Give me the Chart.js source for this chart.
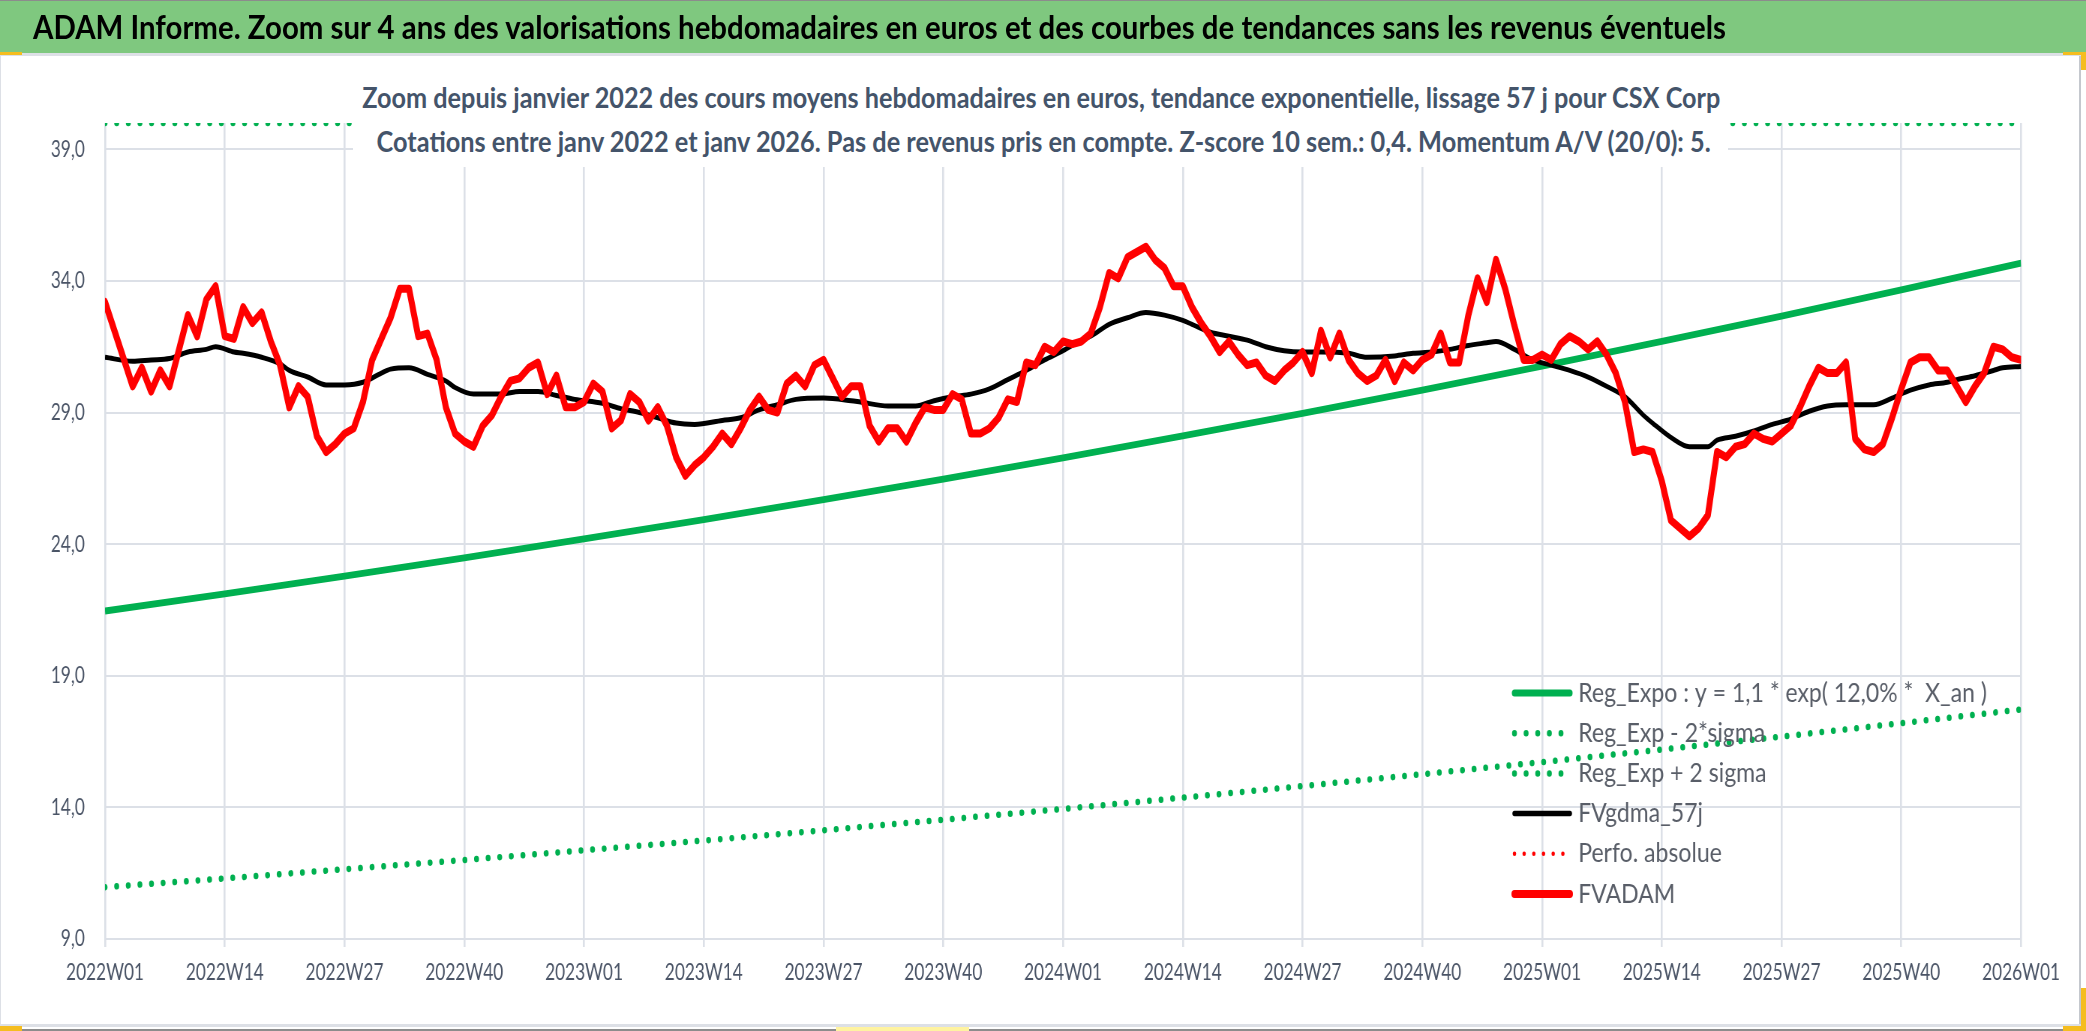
<!DOCTYPE html>
<html lang="fr">
<head>
<meta charset="UTF-8">
<title>ADAM Informe - CSX Corp</title>
<style>
  html, body { margin: 0; padding: 0; background: #fff; }
  #frame { position: relative; width: 2086px; height: 1031px; overflow: hidden; background: #fff; }
  .deco { position: absolute; }
  /* the reference is horizontally squeezed: draw at 2781px wide and scale to 2086 */
  #stage { position: absolute; left: 0; top: 0; width: 2781px; height: 1031px;
           transform: scaleX(0.75009); transform-origin: 0 0; }
  #chart { position: absolute; left: 0; top: 0; width: 2781px; height: 1031px; }
  .txt { position: absolute; white-space: nowrap; line-height: 1.2; transform-origin: 0 0;
         font-family: Lato, "Open Sans", sans-serif; }
  #title { left: 44px; top: 9px; font-size: 31.5px; font-weight: 700; color: #000; }
  #subBox { position: absolute; left: 471px; top: 64px; width: 1833px; height: 103px; background: #fff; }
  .sub { font-size: 29px; font-weight: 700; color: #44546A; }
  .handle { position: absolute; background: #F5BD1F; }
</style>
</head>
<body>
<div id="frame">
  <div class="deco" style="left:0;top:0;width:2086px;height:1px;background:#8c8c8c"></div>
  <div class="deco" style="left:0;top:1px;width:2086px;height:52px;background:#7FC87F"></div>
  <div class="deco" style="left:0;top:53px;width:2086px;height:3px;background:#DDE0E6"></div>
  <div class="deco" style="left:0;top:56px;width:1px;height:970px;background:#DDE0E6"></div>
  <div class="deco" style="left:2079px;top:56px;width:2px;height:970px;background:#C4C8CE"></div>
  <div class="deco" style="left:0;top:1024px;width:2081px;height:3px;background:#DDE0E6"></div>
  <div class="deco" style="left:0;top:1029px;width:2086px;height:2px;background:#8c8c8c"></div>

  <div id="stage">
    <canvas id="chart" width="2781" height="1031"></canvas>
    <div id="title" class="txt" data-w="2257">ADAM Informe. Zoom sur 4 ans des valorisations hebdomadaires en euros et des courbes de tendances sans les revenus éventuels</div>
    <div id="subBox"></div>
    <div class="txt sub" data-w="1811" data-cx="1388" style="top:80.4px">Zoom depuis janvier 2022 des cours moyens hebdomadaires en euros, tendance exponentielle, lissage 57 j pour CSX Corp</div>
    <div class="txt sub" data-w="1779" data-cx="1391" style="top:124.4px">Cotations entre janv 2022 et janv 2026. Pas de revenus pris en compte. Z-score 10 sem.: 0,4. Momentum A/V (20/0): 5.</div>
  </div>

  <div class="handle" style="left:0;top:52px;width:22px;height:3px"></div>
  <div class="handle" style="left:2063px;top:52px;width:23px;height:3px"></div>
  <div class="handle" style="left:2081px;top:52px;width:5px;height:18px"></div>
  <div class="handle" style="left:0;top:1026px;width:22px;height:5px"></div>
  <div class="handle" style="left:2063px;top:1026px;width:23px;height:5px"></div>
  <div class="handle" style="left:2081px;top:988px;width:5px;height:43px"></div>
  <div class="handle" style="left:836px;top:1027px;width:133px;height:4px;background:#FFF3A0"></div>
</div>

<script src="https://cdn.jsdelivr.net/npm/chart.js"></script>
<script>
    // x axis runs over weeks 0..208 (2022W01 .. 2026W01), one tick every 13 weeks
    const xTickLabels = ['2022W01', '2022W14', '2022W27', '2022W40', '2023W01', '2023W14', '2023W27', '2023W40',
        '2024W01', '2024W14', '2024W27', '2024W40', '2025W01', '2025W14', '2025W27', '2025W40', '2026W01'];
    const yTickValues = [9, 14, 19, 24, 29, 34, 39];

    const seriesNames = ['Reg_Expo : y = 1,1 * exp( 12,0% *  X_an )', 'Reg_Exp - 2*sigma', 'Reg_Exp + 2 sigma',
        'FVgdma_57j', 'Perfo. absolue', 'FVADAM'];

    // trend curves, read at each tick week
    const trendWeeks = [0, 13, 26, 39, 52, 65, 78, 91, 104, 117, 130, 143, 156, 169, 182, 195, 208];
    const regExpo = [21.46, 22.11, 22.79, 23.48, 24.20, 24.93, 25.69, 26.47, 27.28, 28.11, 28.97, 29.85, 30.76, 31.70, 32.66, 33.66, 34.68];
    const regLow = [10.97, 11.30, 11.65, 12.00, 12.37, 12.74, 13.13, 13.53, 13.94, 14.37, 14.81, 15.26, 15.72, 16.20, 16.69, 17.20, 17.72];
    // upper band sits on the top edge of the plot (40) all along
    const regHigh = [40, 40, 40, 40, 40, 40, 40, 40, 40, 40, 40, 40, 40, 40, 40, 40, 40];

    // smoothed line FVgdma_57j
    const gdmaWeeks = [0, 3, 5, 7, 9, 11, 12, 14, 15, 17, 19, 20, 22, 24, 26, 28, 30, 31, 33, 35, 37, 38, 40, 43, 45, 47, 49, 51,
        54, 56, 58, 60, 62, 64, 67, 69, 71, 73, 75, 78, 81, 82, 85, 88, 90, 92, 94, 96, 98, 100, 102, 104, 106, 107, 109,
        111, 113, 115, 117, 118, 120, 122, 124, 126, 128, 130, 132, 135, 137, 140, 142, 144, 146, 148, 150, 151, 153, 155,
        157, 159, 161, 163, 165, 167, 168, 170, 172, 174, 175, 177, 179, 181, 183, 185, 187, 189, 190, 192, 194, 196, 198,
        200, 201, 203, 205, 206, 208];
    const gdmaValues = [31.1, 30.95, 31.0, 31.05, 31.3, 31.4, 31.5, 31.3, 31.25, 31.1, 30.85, 30.6, 30.35, 30.05, 30.05, 30.15,
        30.5, 30.65, 30.7, 30.45, 30.2, 29.95, 29.7, 29.7, 29.8, 29.8, 29.65, 29.5,
        29.35, 29.15, 29.0, 28.8, 28.6, 28.55, 28.7, 28.8, 29.1, 29.3, 29.5, 29.55, 29.45, 29.4, 29.25, 29.25, 29.45, 29.6,
        29.7, 29.9, 30.25, 30.6, 31.0, 31.35, 31.75, 31.9, 32.35,
        32.6, 32.8, 32.7, 32.5, 32.35, 32.05, 31.9, 31.75, 31.5, 31.35, 31.3, 31.3, 31.25, 31.1, 31.15, 31.25, 31.3, 31.4,
        31.55, 31.65, 31.7, 31.4, 31.0,
        30.8, 30.6, 30.35, 30.0, 29.6, 28.9, 28.6, 28.05, 27.7, 27.7, 27.95, 28.1, 28.3, 28.55, 28.75, 29.05, 29.25, 29.3,
        29.3, 29.3, 29.55, 29.85, 30.05,
        30.15, 30.25, 30.4, 30.6, 30.7, 30.75];

    // weekly FVADAM, one row per 13 weeks (null = straight stretch, not read)
    const fvadam = [
        33.2, null, null, 30.0, 30.7, 29.8, 30.6, 30.0, null, 32.7, 31.9, 33.3, 33.8,
        31.9, 31.8, 33.0, 32.4, 32.8, 31.7, 30.8, 29.2, 30.0, 29.6, 28.1, 27.5, 27.8,
        28.2, 28.4, 29.4, 31.0, 31.8, 32.6, 33.7, 33.7, 31.9, 32.0, 31.0, 29.2, 28.2,
        27.9, 27.7, 28.5, 28.9, 29.6, 30.2, 30.3, 30.7, 30.9, 29.7, 30.4, 29.2, 29.2,
        29.4, 30.1, 29.8, 28.4, 28.7, 29.7, 29.4, 28.7, 29.2, 28.5, 27.3, 26.6, 27.0,
        27.3, 27.7, 28.2, 27.8, 28.4, 29.1, 29.6, 29.1, 29.0, 30.1, 30.4, 30.0, 30.8,
        31.0, 30.3, 29.6, 30.0, 30.0, 28.5, 27.9, 28.4, 28.4, 27.9, 28.6, 29.2, 29.1,
        29.1, 29.7, 29.5, 28.2, 28.2, 28.4, 28.8, 29.5, 29.4, 30.9, 30.8, 31.5, 31.3,
        31.7, 31.6, 31.7, 32.0, 33.0, 34.3, 34.1, 34.9, 35.1, 35.3, 34.8, 34.5, 33.8,
        33.8, 33.0, 32.4, 31.9, 31.3, 31.7, 31.2, 30.8, 30.9, 30.4, 30.2, 30.6, 30.9,
        31.3, 30.5, 32.1, 31.1, 32.0, 31.0, 30.5, 30.2, 30.4, 31.0, 30.2, 30.9, 30.6,
        31.0, 31.2, 32.0, 30.9, 30.9, 32.7, 34.1, 33.2, 34.8, 33.7, 32.3, 31.0, 31.0,
        31.2, 31.0, 31.6, 31.9, 31.7, 31.4, 31.7, 31.2, 30.5, 29.4, 27.5, 27.6, 27.5,
        26.4, 24.9, 24.6, 24.3, 24.6, 25.1, 27.5, 27.3, 27.7, 27.8, 28.2, 28.0, 27.9,
        28.2, 28.5, 29.2, 30.0, 30.7, 30.5, 30.5, 30.9, 28.0, 27.6, 27.5, 27.8, 28.8,
        29.9, 30.9, 31.1, 31.1, 30.6, 30.6, 30.0, 29.4, 30.0, 30.5, 31.5, 31.4, 31.1,
        31.0
    ];
    const perfoAbsolue = [];

    // fit the html titles to the measured widths of the reference
    document.querySelectorAll('.txt[data-w]').forEach(function(el) {
        const target = parseFloat(el.dataset.w);
        el.style.transform = 'scaleX(' + (target / el.offsetWidth) + ')';
        if (el.dataset.cx) el.style.left = (parseFloat(el.dataset.cx) - target / 2) + 'px';
    });

    function pairs(xs, ys) {
        return xs.map((x, i) => ({ x: x, y: ys[i] }));
    }

    const tickColor = '#4A5466';
    const gridColor = '#DCE0E7';
    const dotGreen = [0.1, 15.4];

    // legend drawn inside the plot, lower right, like the excel one
    const innerLegend = {
        id: 'innerLegend',
        afterDraw(chart) {
            const ctx = chart.ctx;
            ctx.save();
            ctx.font = '26.5px Lato, "Open Sans", sans-serif';
            const sx = 545 / ctx.measureText(seriesNames[0]).width;
            chart.data.datasets.forEach((ds, i) => {
                const y = 693 + i * 40.2;
                ctx.beginPath();
                ctx.lineCap = 'round';
                ctx.strokeStyle = ds.borderColor;
                ctx.lineWidth = ds.legendWidth;
                ctx.setLineDash(ds.borderDash || []);
                ctx.moveTo(2019, y);
                ctx.lineTo(2093, y);
                ctx.stroke();
                ctx.setLineDash([]);
                ctx.save();
                ctx.translate(2104, y);
                ctx.scale(sx, 1);
                ctx.fillStyle = '#595E68';
                ctx.textBaseline = 'middle';
                ctx.fillText(ds.label, 0, 0);
                ctx.restore();
            });
            ctx.restore();
        }
    };

    new Chart(document.getElementById('chart'), {
        type: 'line',
        data: {
            datasets: [
                { label: seriesNames[0], data: pairs(trendWeeks, regExpo), borderColor: '#00B050', borderWidth: 6.8,
                  legendWidth: 7, order: 5 },
                { label: seriesNames[1], data: pairs(trendWeeks, regLow), borderColor: '#00B050', borderWidth: 6.5,
                  borderDash: dotGreen, borderCapStyle: 'round', legendWidth: 6.5, order: 4 },
                { label: seriesNames[2], data: pairs(trendWeeks, regHigh), borderColor: '#00B050', borderWidth: 6.5,
                  borderDash: dotGreen, borderCapStyle: 'round', legendWidth: 6.5, order: 3 },
                { label: seriesNames[3], data: pairs(gdmaWeeks, gdmaValues), borderColor: '#000000', borderWidth: 5,
                  cubicInterpolationMode: 'monotone', legendWidth: 5.5, order: 2 },
                { label: seriesNames[4], data: perfoAbsolue, borderColor: '#FF0000', borderWidth: 4.5,
                  borderDash: [0.1, 12.8], borderCapStyle: 'round', legendWidth: 4.5, order: 1 },
                { label: seriesNames[5], data: fvadam.map((v, i) => ({ x: i, y: v })).filter(p => p.y !== null),
                  borderColor: '#FF0000', borderWidth: 8, borderJoinStyle: 'round', borderCapStyle: 'round',
                  spanGaps: true, legendWidth: 8, order: 0 }
            ]
        },
        options: {
            responsive: false,
            animation: false,
            layout: { padding: { top: 123, right: 86.6, bottom: 32, left: 0 } },
            elements: { point: { radius: 0 }, line: { tension: 0 } },
            plugins: {
                legend: { display: false },
                tooltip: { enabled: false }
            },
            scales: {
                x: {
                    type: 'linear',
                    min: 0,
                    max: 208,
                    border: { display: false },
                    grid: { color: gridColor, lineWidth: 2.6, tickLength: 8, drawTicks: true },
                    ticks: {
                        stepSize: 13, autoSkip: false, maxRotation: 0, padding: 12, color: tickColor,
                        font: { family: 'Lato, "Open Sans", sans-serif', size: 23 },
                        callback: v => xTickLabels[Math.round(v / 13)]
                    },
                    afterFit: s => { s.height = 60; }
                },
                y: {
                    min: 9,
                    max: 40,
                    border: { display: false },
                    grid: { color: gridColor, lineWidth: 2, drawTicks: false },
                    ticks: {
                        padding: 27, color: tickColor,
                        font: { family: 'Lato, "Open Sans", sans-serif', size: 23 },
                        callback: v => v.toFixed(1).replace('.', ',')
                    },
                    afterBuildTicks: s => { s.ticks = yTickValues.map(v => ({ value: v })); },
                    afterFit: s => { s.width = 140; }
                }
            }
        },
        plugins: [innerLegend]
    });
</script>
</body>
</html>
